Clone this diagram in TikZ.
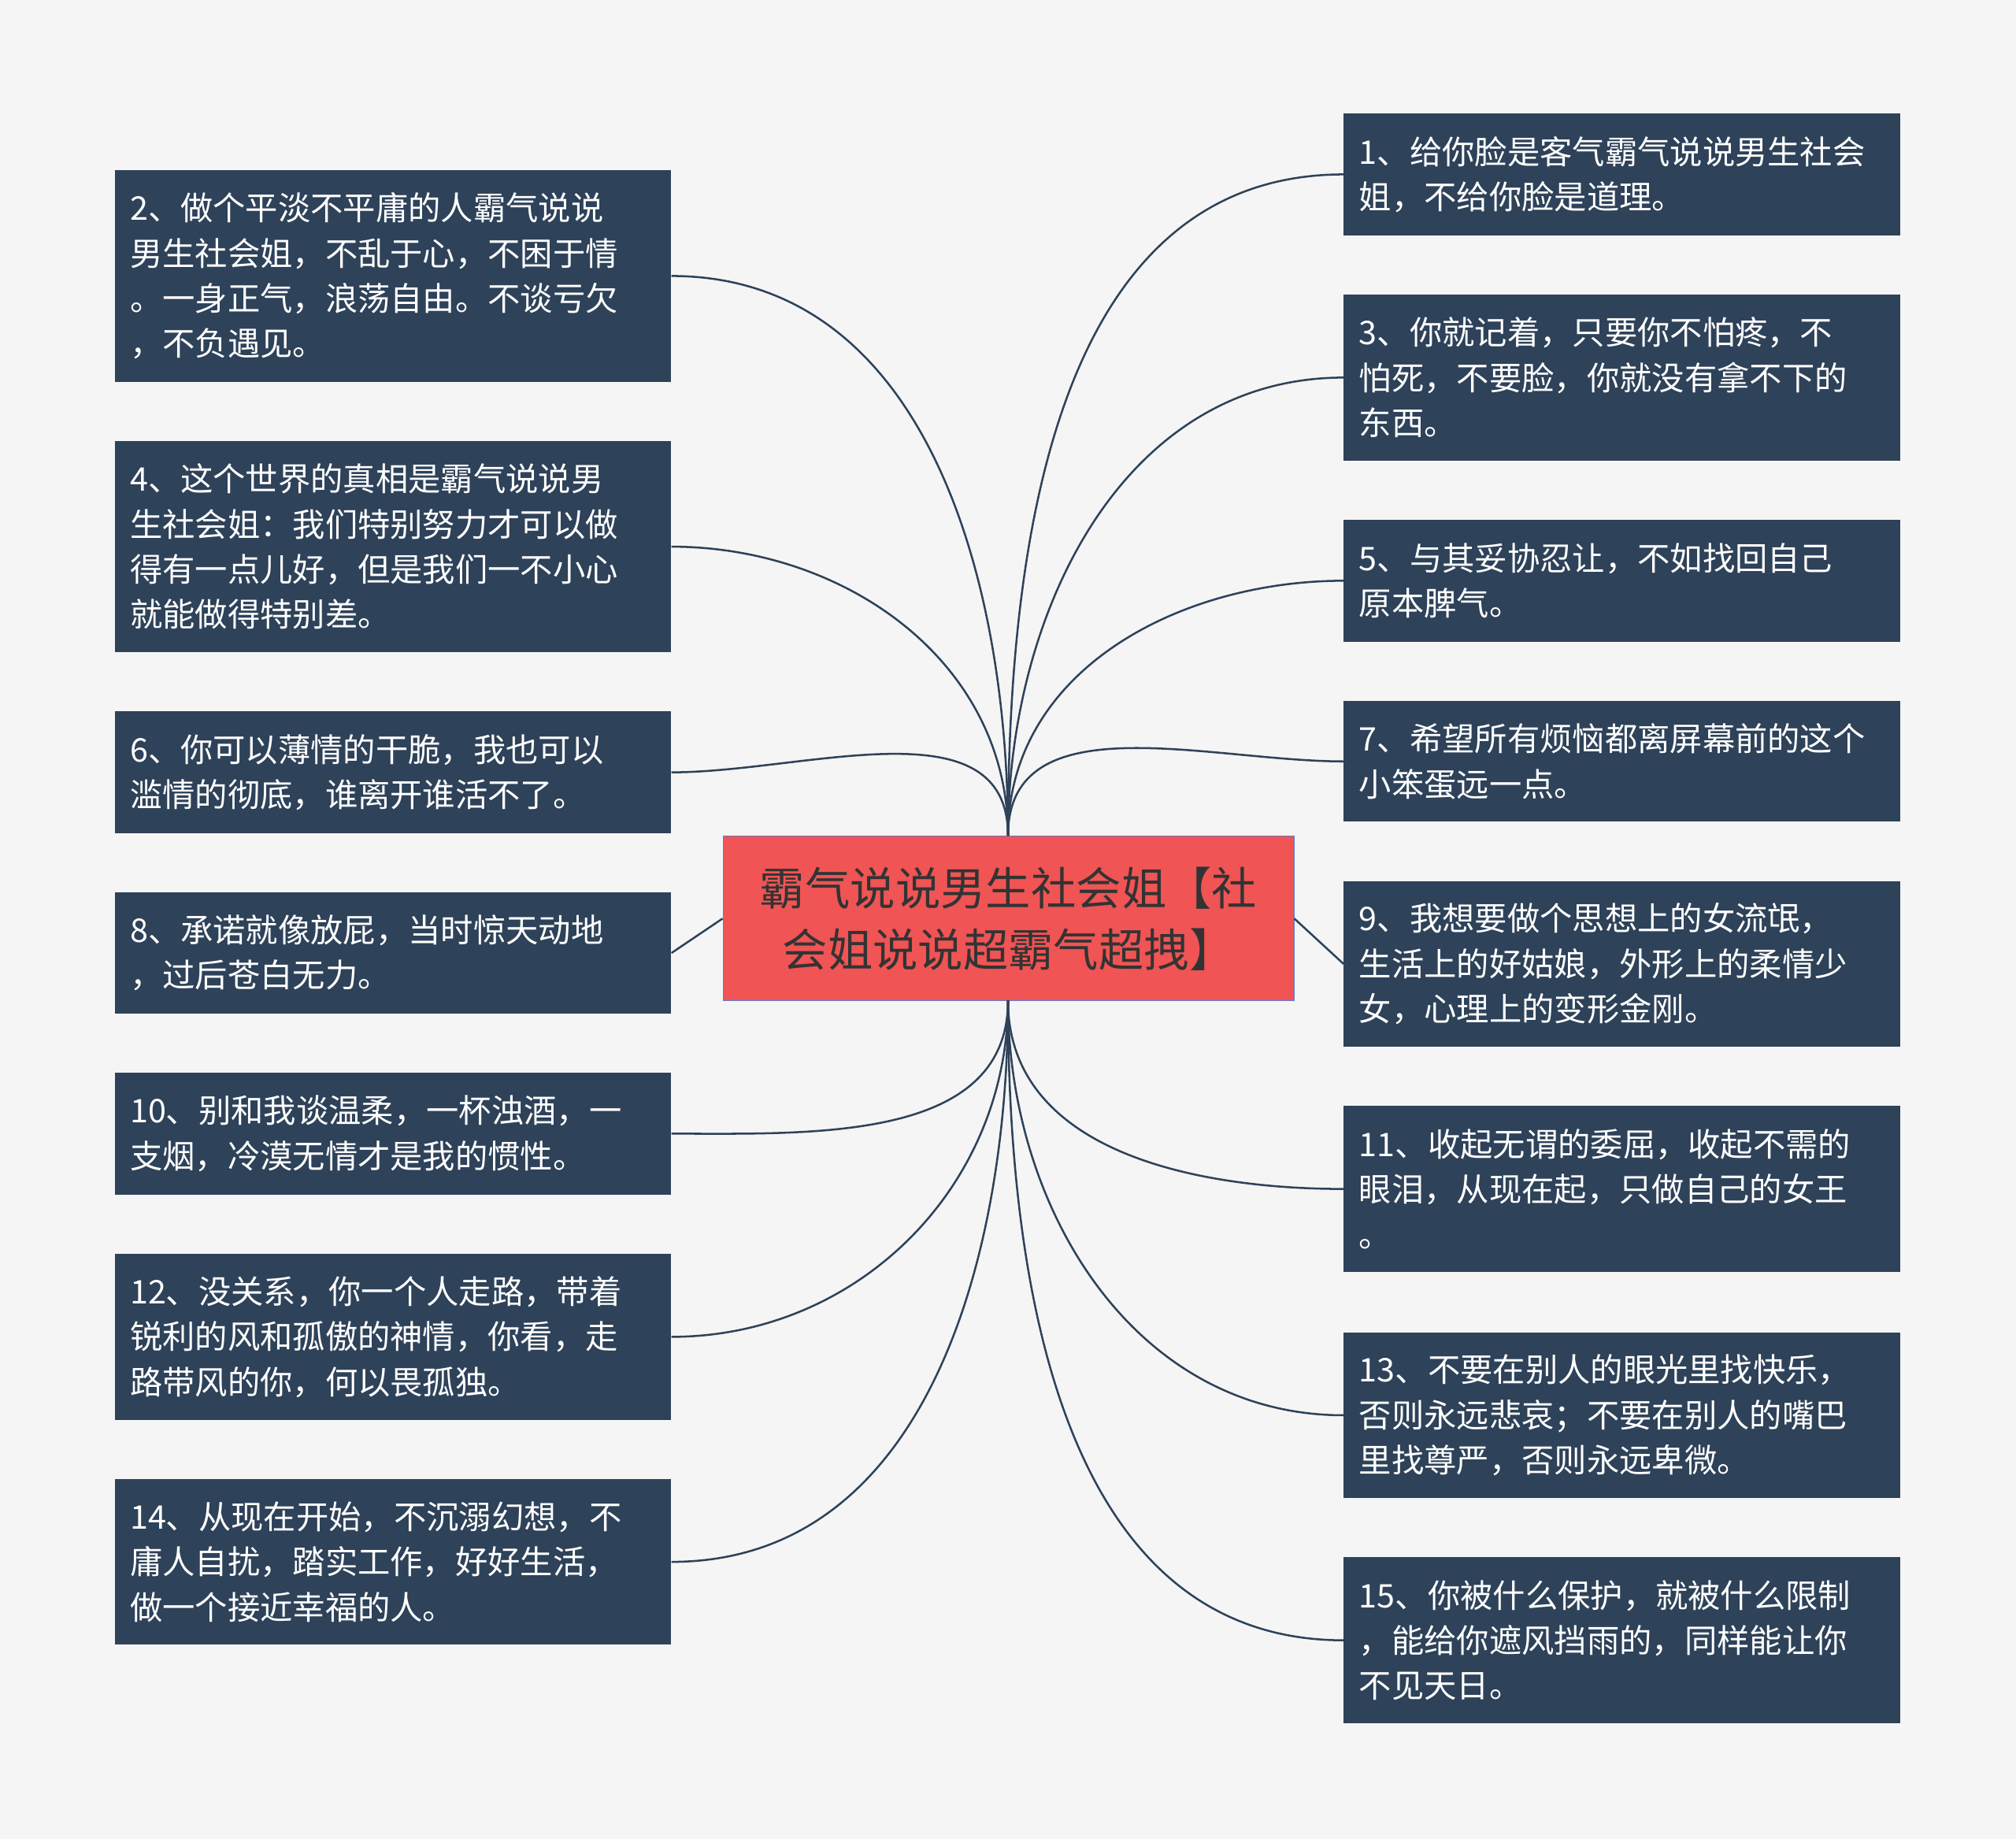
\documentclass[tikz,border=0pt]{standalone}
\usepackage{fontspec}
\setmainfont{Noto Sans CJK SC}
\begin{document}
\begin{tikzpicture}[x=0.05cm,y=-0.05cm,
  box/.style={fill=boxc,text=white,anchor=north west,align=left,inner xsep=0.6cm,inner ysep=0pt,
    minimum width=21.65cm,text width=20.45cm,font=\fontsize{36}{50}\selectfont},
  link/.style={draw=boxc,line width=2.2pt}]
\definecolor{boxc}{HTML}{2E4259}
\definecolor{bg}{HTML}{F5F5F5}
\definecolor{ctr}{HTML}{F05454}
\definecolor{ctrb}{HTML}{5B7FD6}
\fill[bg] (0,0) rectangle (1568,1430);
\useasboundingbox (0,0) rectangle (1568,1430);
\node[fill=ctr,draw=ctrb,line width=1pt,minimum width=22.2cm,minimum height=6.4cm,anchor=north west,align=center,
  text=black!80,font=\fontsize{50}{68}\selectfont] (c) at (562,650) {霸气说说男生社会姐【社\\会姐说说超霸气超拽】};
\coordinate (ct) at (784,650);
\coordinate (cb) at (784,778);
\node[box,minimum height=8.25cm] (l2) at (89,132) {2、做个平淡不平庸的人霸气说说\\男生社会姐，不乱于心，不困于情\\。一身正气，浪荡自由。不谈亏欠\\，不负遇见。};
\node[box,minimum height=8.2cm] (l4) at (89,343) {4、这个世界的真相是霸气说说男\\生社会姐：我们特别努力才可以做\\得有一点儿好，但是我们一不小心\\就能做得特别差。};
\node[box,minimum height=4.75cm] (l6) at (89,553) {6、你可以薄情的干脆，我也可以\\滥情的彻底，谁离开谁活不了。};
\node[box,minimum height=4.7cm] (l8) at (89,694) {8、承诺就像放屁，当时惊天动地\\，过后苍白无力。};
\node[box,minimum height=4.75cm] (l10) at (89,834) {10、别和我谈温柔，一杯浊酒，一\\支烟，冷漠无情才是我的惯性。};
\node[box,minimum height=6.45cm] (l12) at (89,975) {12、没关系，你一个人走路，带着\\锐利的风和孤傲的神情，你看，走\\路带风的你，何以畏孤独。};
\node[box,minimum height=6.45cm] (l14) at (89,1150) {14、从现在开始，不沉溺幻想，不\\庸人自扰，踏实工作，好好生活，\\做一个接近幸福的人。};
\node[box,minimum height=4.75cm] (r1) at (1045,88) {1、给你脸是客气霸气说说男生社会\\姐，不给你脸是道理。};
\node[box,minimum height=6.45cm] (r3) at (1045,229) {3、你就记着，只要你不怕疼，不\\怕死，不要脸，你就没有拿不下的\\东西。};
\node[box,minimum height=4.75cm] (r5) at (1045,404) {5、与其妥协忍让，不如找回自己\\原本脾气。};
\node[box,minimum height=4.7cm] (r7) at (1045,545) {7、希望所有烦恼都离屏幕前的这个\\小笨蛋远一点。};
\node[box,minimum height=6.45cm] (r9) at (1045,685) {9、我想要做个思想上的女流氓，\\生活上的好姑娘，外形上的柔情少\\女，心理上的变形金刚。};
\node[box,minimum height=6.45cm] (r11) at (1045,860) {11、收起无谓的委屈，收起不需的\\眼泪，从现在起，只做自己的女王\\。};
\node[box,minimum height=6.45cm] (r13) at (1045,1036) {13、不要在别人的眼光里找快乐，\\否则永远悲哀；不要在别人的嘴巴\\里找尊严，否则永远卑微。};
\node[box,minimum height=6.45cm] (r15) at (1045,1211) {15、你被什么保护，就被什么限制\\，能给你遮风挡雨的，同样能让你\\不见天日。};
\foreach \n in {l2,l4,l6} \draw[link] (ct) to[out=90,in=0] (\n.east);
\foreach \n in {l10,l12,l14} \draw[link] (cb) to[out=-90,in=0] (\n.east);
\draw[link] (c.west) -- (l8.east);
\foreach \n in {r1,r3,r5,r7} \draw[link] (ct) to[out=90,in=180] (\n.west);
\foreach \n in {r11,r13,r15} \draw[link] (cb) to[out=-90,in=180] (\n.west);
\draw[link] (c.east) -- (r9.west);
\end{tikzpicture}
\end{document}
